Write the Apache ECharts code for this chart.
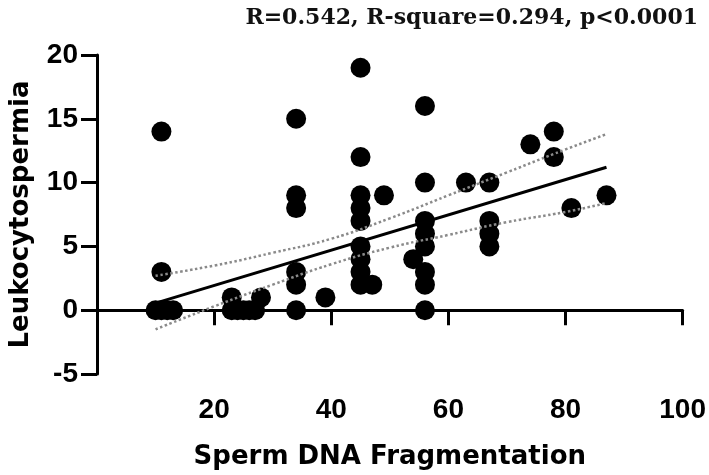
<!DOCTYPE html>
<html>
<head>
<meta charset="utf-8">
<script src="https://cdn.jsdelivr.net/npm/echarts@6/dist/echarts.min.js"></script>
<style>
  html, body { margin: 0; padding: 0; background: #fff; }
  #chart { width: 709px; height: 475px; }
</style>
</head>
<body>
<div id="chart"></div>
<script>
// points
const dnaFrag = [11, 11, 10, 11, 12, 13,
  23, 28, 23, 24, 25, 26, 27,
  34, 34, 34, 34, 34, 34, 39,
  45, 45, 45, 45, 45, 45, 45, 45, 45, 47, 49,
  56, 56, 56, 56, 56, 54, 56, 56, 56,
  63, 67, 67, 67, 67, 74, 78, 78, 81, 87];
const leuko = [14, 3, 0, 0, 0, 0,
  1, 1, 0, 0, 0, 0, 0,
  15, 9, 8, 3, 2, 0, 1,
  19, 12, 9, 8, 7, 5, 4, 3, 2, 2, 9,
  16, 10, 7, 6, 5, 4, 3, 2, 0,
  10, 10, 7, 6, 5, 13, 14, 12, 8, 9];

// fitted line and 95% band
const fitX = [10, 87];
const fitY = [0.55, 11.2];
const bandX = [10, 20, 30, 40, 50, 60, 70, 80, 87];
const bandUpper = [2.7, 3.5, 4.5, 5.6, 7.2, 9.0, 10.8, 12.6, 13.8];
const bandLower = [-1.5, 0.3, 2.0, 3.6, 4.9, 5.9, 6.9, 7.7, 8.4];

const titleText = 'R=0.542, R-square=0.294, p<0.0001';

const zip = (a, b) => a.map((v, i) => [v, b[i]]);

const chart = echarts.init(document.getElementById('chart'));

const tickFont = { fontFamily: 'Liberation Sans', fontWeight: 'bold', fontSize: 28, color: '#000' };
const nameFont = { fontFamily: 'DejaVu Sans', fontWeight: 'bold', fontSize: 26, color: '#000' };
const axisLine = { show: true, onZero: true, lineStyle: { color: '#000', width: 3 } };

chart.setOption({
  animation: false,
  backgroundColor: '#fff',
  title: {
    text: titleText,
    right: 6,
    top: 2,
    textStyle: { fontFamily: 'DejaVu Serif', fontWeight: 'bold', fontSize: 22, color: '#111' }
  },
  grid: { left: 96, right: 26, top: 55, bottom: 28 },
  xAxis: {
    type: 'value',
    min: 0,
    max: 100,
    interval: 20,
    name: 'Sperm DNA Fragmentation',
    nameLocation: 'middle',
    nameGap: 70,
    nameTextStyle: nameFont,
    axisLine: axisLine,
    axisTick: { show: true, length: 15, lineStyle: { color: '#000', width: 3 } },
    axisLabel: Object.assign({ margin: 22, showMinLabel: false }, tickFont),
    splitLine: { show: false }
  },
  yAxis: {
    type: 'value',
    min: -5,
    max: 20,
    interval: 5,
    name: 'Leukocytospermia',
    nameLocation: 'middle',
    nameGap: 63,
    nameTextStyle: nameFont,
    axisLine: { show: true, onZero: false, lineStyle: { color: '#000', width: 3 } },
    axisTick: { show: true, length: 16, lineStyle: { color: '#000', width: 3 } },
    axisLabel: Object.assign({ margin: 19 }, tickFont),
    splitLine: { show: false }
  },
  series: [
    {
      type: 'line',
      data: zip(bandX, bandUpper),
      smooth: true,
      symbol: 'none',
      lineStyle: { color: '#8a8a8a', width: 2.5, type: 'dotted' }
    },
    {
      type: 'line',
      data: zip(bandX, bandLower),
      smooth: true,
      symbol: 'none',
      lineStyle: { color: '#8a8a8a', width: 2.5, type: 'dotted' }
    },
    {
      type: 'line',
      data: zip(fitX, fitY),
      symbol: 'none',
      lineStyle: { color: '#000', width: 3 }
    },
    {
      type: 'scatter',
      data: zip(dnaFrag, leuko),
      symbol: 'circle',
      symbolSize: 20,
      itemStyle: { color: '#000', opacity: 1 }
    }
  ]
});
</script>
</body>
</html>
